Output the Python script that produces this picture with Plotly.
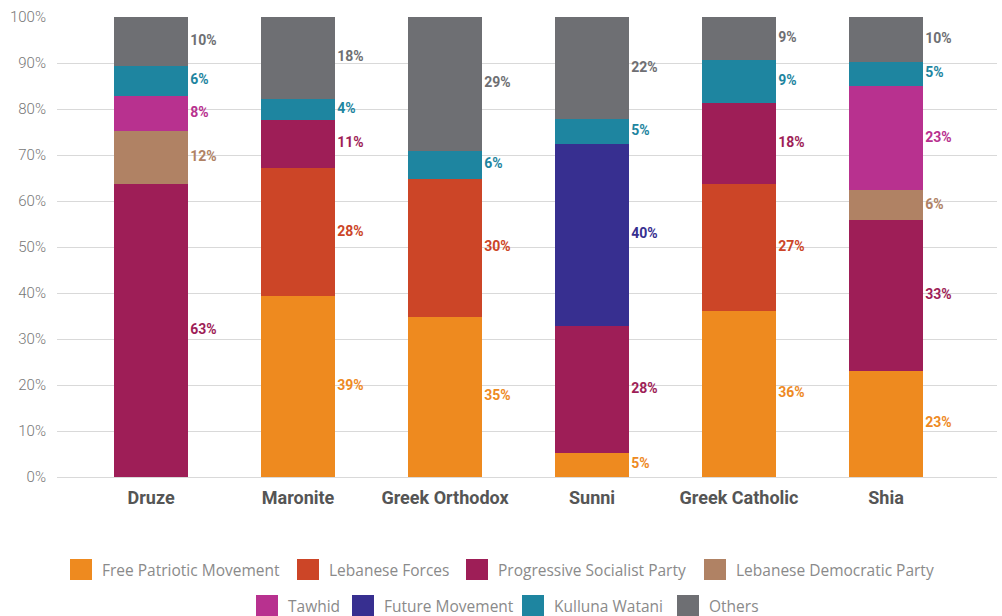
import plotly.graph_objects as go

categories = ["Druze", "Maronite", "Greek Orthodox", "Sunni", "Greek Catholic", "Shia"]

parties = ["Free Patriotic Movement", "Lebanese Forces", "Progressive Socialist Party",
           "Lebanese Democratic Party", "Tawhid", "Future Movement", "Kulluna Watani", "Others"]

colors = ["#EE8A1F", "#CC4527", "#9E1E57", "#B08264", "#B8318F", "#372F90", "#1E85A0", "#6E6F73"]

# segment sizes (% of voters), stacked in the order of `parties`
fpm      = [0,    39.3, 34.8, 5.3,  36.1, 23.1]
lf       = [0,    27.9, 30.0, 0,    27.6, 0]
psp      = [63.6, 10.5, 0,    27.5, 17.6, 32.8]
ldp      = [11.7, 0,    0,    0,    0,    6.4]
tawhid   = [7.6,  0,    0,    0,    0,    22.7]
future   = [0,    0,    0,    39.7, 0,    0]
kulluna  = [6.5,  4.5,  6.1,  5.3,  9.4,  5.3]
others   = [10.6, 17.8, 29.1, 22.2, 9.3,  9.7]

# printed labels (rounded as in the source)
fpm_lbl     = ["",    "39%", "35%", "5%",  "36%", "23%"]
lf_lbl      = ["",    "28%", "30%", "",    "27%", ""]
psp_lbl     = ["63%", "11%", "",    "28%", "18%", "33%"]
ldp_lbl     = ["12%", "",    "",    "",    "",    "6%"]
tawhid_lbl  = ["8%",  "",    "",    "",    "",    "23%"]
future_lbl  = ["",    "",    "",    "40%", "",    ""]
kulluna_lbl = ["6%",  "4%",  "6%",  "5%",  "9%",  "5%"]
others_lbl  = ["10%", "18%", "29%", "22%", "9%",  "10%"]

series = [fpm, lf, psp, ldp, tawhid, future, kulluna, others]
labels = [fpm_lbl, lf_lbl, psp_lbl, ldp_lbl, tawhid_lbl, future_lbl, kulluna_lbl, others_lbl]

xs = list(range(len(categories)))
bar_w = 0.503
COND = "Roboto, Lato, sans-serif"

W, H = 1002, 616
ML, MR, MT, MB = 57, 5, 17, 139
PW, PH = W - ML - MR, H - MT - MB

fig = go.Figure()

for name, vals, col in zip(parties, series, colors):
    fig.add_trace(go.Bar(x=xs, y=vals, name=name, marker=dict(color=col, line=dict(width=0)),
                         width=bar_w, showlegend=False, hoverinfo="skip"))

base = [0.0] * len(categories)
for name, vals, lbls, col in zip(parties, series, labels, colors):
    tx, ty, tt = [], [], []
    for i, v in enumerate(vals):
        if v > 0 and lbls[i]:
            tx.append(xs[i] + bar_w / 2 + 0.015)
            ty.append(base[i] + v / 2)
            tt.append(lbls[i])
        base[i] += v
    fig.add_trace(go.Scatter(x=tx, y=ty, text=tt, mode="text", textposition="middle right",
                             textfont=dict(family=COND, size=14, color=col, weight="bold"),
                             showlegend=False, hoverinfo="skip"))

# custom legend (two centred rows, as in the source)
legend_px = [70, 297, 466, 704, 256, 352, 522, 677]   # left edge of each swatch, px
legend_row_y = [569.5, 605.5]                          # row centres, px


def px_x(p):
    return (p - ML) / PW


def px_y(p):
    return (H - MB - p) / PH


shapes = []
annotations = []
for k, (name, col) in enumerate(zip(parties, colors)):
    x0 = legend_px[k]
    yc = legend_row_y[k // 4]
    shapes.append(dict(type="rect", xref="paper", yref="paper",
                       x0=px_x(x0), x1=px_x(x0 + 22), y0=px_y(yc + 10.5), y1=px_y(yc - 10.5),
                       fillcolor=col, line=dict(width=0), layer="above"))
    annotations.append(dict(xref="paper", yref="paper", x=px_x(x0 + 30), y=px_y(yc),
                            xanchor="left", yanchor="middle", showarrow=False, text=name,
                            font=dict(family="Open Sans, sans-serif", size=15.5, color="#8A8A8A")))

fig.update_layout(
    width=W, height=H,
    paper_bgcolor="white", plot_bgcolor="white",
    barmode="stack", bargap=0,
    margin=dict(l=ML, r=MR, t=MT, b=MB, autoexpand=False),
    showlegend=False,
    shapes=shapes,
    annotations=annotations,
    xaxis=dict(range=[-0.64, 5.755], tickmode="array", tickvals=xs, ticktext=categories,
               showgrid=False, zeroline=False, showline=False, ticks="", automargin=False,
               ticklabelstandoff=8,
               tickfont=dict(family=COND, size=18, color="#555555", weight="bold")),
    yaxis=dict(range=[0, 100], tickmode="array", tickvals=list(range(0, 101, 10)),
               ticktext=[f"{v}%" for v in range(0, 101, 10)],
               showgrid=True, gridcolor="#D9D9D9", gridwidth=1,
               zeroline=True, zerolinecolor="#D9D9D9", zerolinewidth=1,
               showline=False, ticks="", ticklabelstandoff=10, automargin=False,
               tickfont=dict(family=COND, size=15, color="#777777", weight=300)),
)

fig.write_html("out.html", config={"displayModeBar": False},
               post_script="document.body.style.margin='0px';")
